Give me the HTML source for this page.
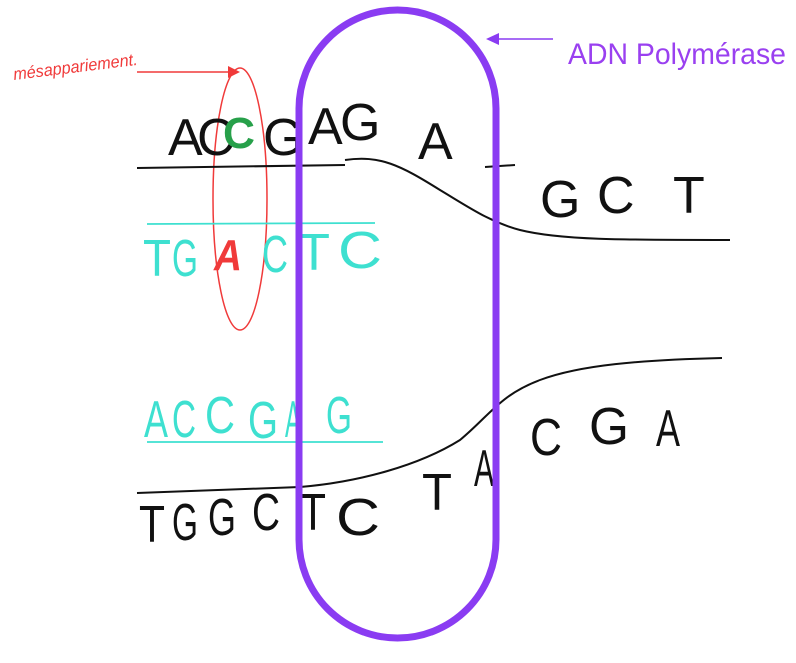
<!DOCTYPE html>
<html><head><meta charset="utf-8"><style>
html,body{margin:0;padding:0;background:#fff;}
svg{display:block;}
text{font-family:"Liberation Sans",sans-serif;}
</style></head><body>
<svg width="796" height="663" viewBox="0 0 796 663">
<rect width="796" height="663" fill="#fff"/>
<g>
<text x="14" y="80" font-size="17" fill="#f03a3a" transform="rotate(-7 14 80)" font-style="italic" textLength="125" lengthAdjust="spacingAndGlyphs">mésappariement.</text>
<line x1="137" y1="72" x2="232" y2="72" stroke="#f03a3a" stroke-width="1.5"/>
<polygon points="240,72 228,66 228,78" fill="#f03a3a"/>
</g>
<ellipse cx="240" cy="199" rx="27" ry="131" fill="none" stroke="#f03a3a" stroke-width="1.5"/>
<g fill="none" stroke="#111" stroke-width="2">
<path d="M137 168 L345 165"/>
<path d="M345 160 C380 155 400 165 440 190 C470 208 490 222 520 230 C560 240 620 240 730 240"/>
<path d="M137 493 L300 487 C360 482 420 465 460 440 C490 415 500 395 540 380 C580 365 640 360 722 358"/>
<line x1="485" y1="167" x2="515" y2="165"/>
</g>
<g stroke="#3ee0d0" stroke-width="1.8">
<line x1="147" y1="224" x2="375" y2="223"/>
<line x1="147" y1="442" x2="383" y2="442"/>
</g>
<g font-size="52" fill="#111" lengthAdjust="spacingAndGlyphs">
<text x="168" y="155" textLength="26">A</text><text x="197" y="155" textLength="24">C</text>
<text x="263" y="155" textLength="27">G</text><text x="308" y="144" textLength="26">A</text><text x="340" y="140" textLength="30">G</text>
<text x="418" y="159" textLength="24">A</text>
<text x="540" y="217" textLength="32">G</text><text x="597" y="213" textLength="28">C</text><text x="673" y="213" textLength="40">T</text>
</g>
<text x="223" y="148" font-size="44" font-weight="bold" fill="#27a04a" textLength="32" lengthAdjust="spacingAndGlyphs">C</text>
<g font-size="52" fill="#3ee0d0">
<text x="143" y="276" textLength="28" lengthAdjust="spacingAndGlyphs">T</text><text x="172" y="276" textLength="26" lengthAdjust="spacingAndGlyphs">G</text>
<text x="262" y="272" textLength="26" lengthAdjust="spacingAndGlyphs">C</text><text x="298" y="270" textLength="32" lengthAdjust="spacingAndGlyphs">T</text><text x="338" y="268" textLength="44" lengthAdjust="spacingAndGlyphs">C</text>
</g>
<text x="214" y="270" font-size="44" font-weight="bold" font-style="italic" fill="#f03a3a" textLength="28" lengthAdjust="spacingAndGlyphs">A</text>
<g font-size="52" fill="#3ee0d0">
<text x="144" y="437" textLength="24" lengthAdjust="spacingAndGlyphs">A</text><text x="172" y="437" textLength="24" lengthAdjust="spacingAndGlyphs">C</text><text x="205" y="433" textLength="30" lengthAdjust="spacingAndGlyphs">C</text>
<text x="248" y="438" textLength="30" lengthAdjust="spacingAndGlyphs">G</text><text x="285" y="437" textLength="16" lengthAdjust="spacingAndGlyphs">A</text><text x="326" y="433" textLength="26" lengthAdjust="spacingAndGlyphs">G</text>
</g>
<g font-size="52" fill="#111">
<text x="139" y="542" textLength="26" lengthAdjust="spacingAndGlyphs">T</text><text x="172" y="540" textLength="26" lengthAdjust="spacingAndGlyphs">G</text><text x="208" y="535" textLength="28" lengthAdjust="spacingAndGlyphs">G</text>
<text x="252" y="530" textLength="28" lengthAdjust="spacingAndGlyphs">C</text><text x="300" y="530" textLength="26" lengthAdjust="spacingAndGlyphs">T</text><text x="336" y="535" textLength="44" lengthAdjust="spacingAndGlyphs">C</text>
<text x="422" y="510" textLength="30" lengthAdjust="spacingAndGlyphs">T</text><text x="474" y="486" textLength="20" lengthAdjust="spacingAndGlyphs">A</text>
<text x="530" y="455" textLength="32" lengthAdjust="spacingAndGlyphs">C</text><text x="589" y="444" textLength="40" lengthAdjust="spacingAndGlyphs">G</text><text x="656" y="446" textLength="24" lengthAdjust="spacingAndGlyphs">A</text>
</g>
<rect x="299" y="10" width="197" height="628" rx="98.5" fill="none" stroke="#8a3cf2" stroke-width="7"/>
<g>
<line x1="496" y1="39" x2="553" y2="39" stroke="#8a3cf2" stroke-width="1.5"/>
<polygon points="486,39 499,33 499,45" fill="#8a3cf2"/>
<text x="568" y="64" font-size="30" fill="#9a40f0" textLength="218" lengthAdjust="spacingAndGlyphs">ADN Polymérase</text>
</g>
</svg>
</body></html>
